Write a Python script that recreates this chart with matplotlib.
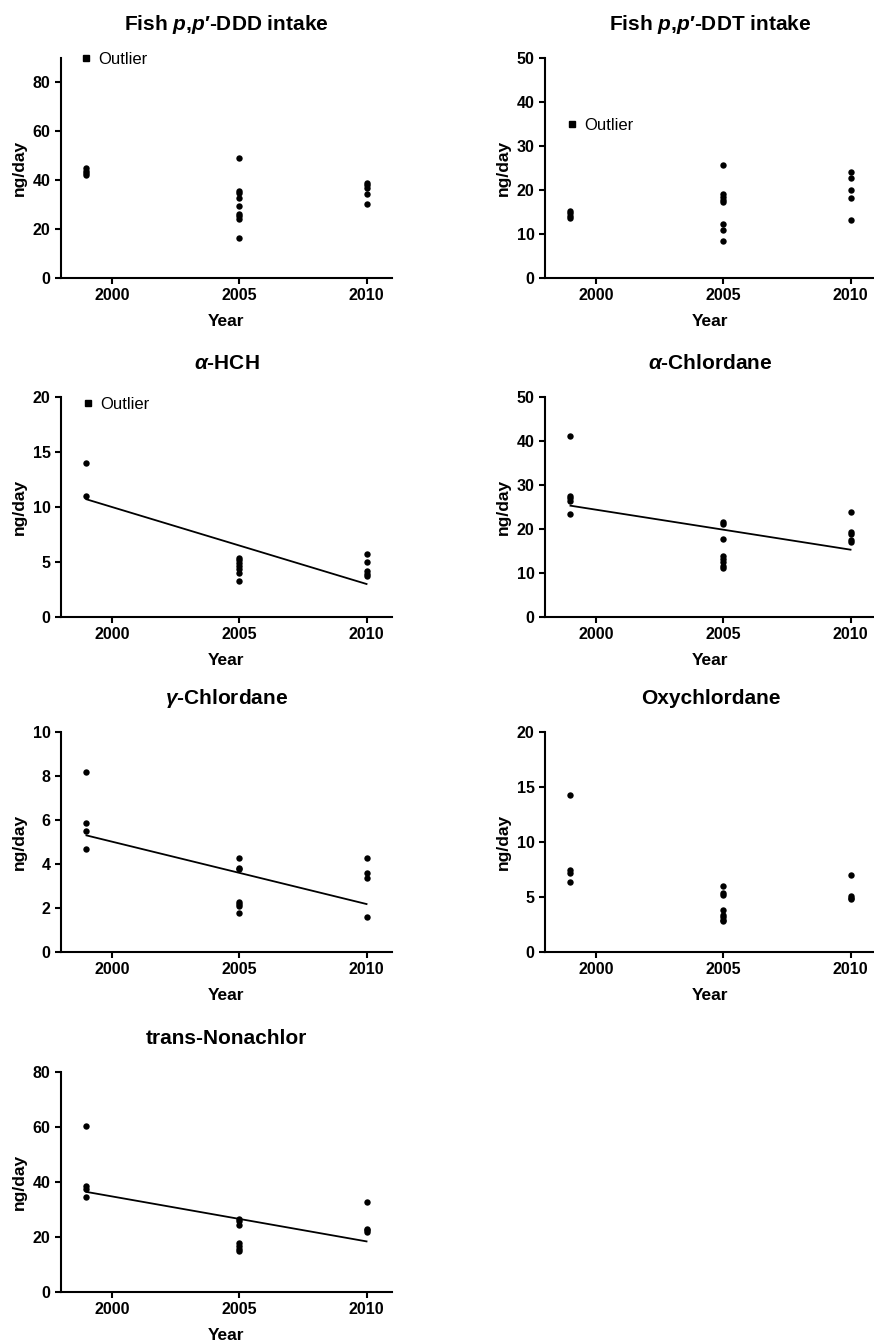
import matplotlib
matplotlib.use("Agg")
import matplotlib.pyplot as plt
from matplotlib.lines import Line2D
import numpy as np

plt.rcParams['font.family'] = ['Liberation Sans', 'DejaVu Sans']
plt.rcParams['mathtext.fontset'] = 'custom'
plt.rcParams['mathtext.rm'] = 'Liberation Sans:bold'
plt.rcParams['mathtext.it'] = 'Liberation Sans:italic:bold'
plt.rcParams['mathtext.bf'] = 'Liberation Sans:bold'

# ---------------- data ----------------
years_ticks = [2000, 2005, 2010]

ddd_1999 = [44.8, 43.8, 42.9, 42.3]
ddd_2005 = [49.0, 35.4, 34.7, 32.7, 29.3, 26.0, 25.2, 24.3, 16.2]
ddd_2010 = [38.8, 37.9, 36.9, 34.5, 30.1]

ddt_1999 = [15.3, 14.8, 14.2, 13.6]
ddt_2005 = [25.7, 19.0, 18.4, 17.8, 17.2, 12.3, 11.0, 8.3]
ddt_2010 = [24.0, 22.8, 20.0, 18.1, 13.2]

hch_1999 = [14.0, 11.0]
hch_2005 = [5.38, 5.14, 4.89, 4.68, 4.38, 3.99, 3.23]
hch_2010 = [5.71, 4.98, 4.2, 3.9, 3.69]
hch_fit = [10.7, 3.0]

ach_1999 = [41.2, 27.6, 27.0, 26.3, 23.4]
ach_2005 = [21.5, 21.1, 17.8, 13.8, 13.2, 12.5, 11.7, 11.2]
ach_2010 = [23.8, 19.3, 18.8, 17.6, 17.1]
ach_fit = [25.3, 15.3]

gch_1999 = [8.18, 5.88, 5.48, 4.67]
gch_2005 = [4.27, 3.82, 3.76, 2.27, 2.18, 2.09, 1.77]
gch_2010 = [4.27, 3.58, 3.36, 1.58]
gch_fit = [5.30, 2.18]

oxy_1999 = [14.27, 7.45, 7.21, 6.33]
oxy_2005 = [5.97, 5.36, 5.15, 3.85, 3.33, 3.15, 2.94, 2.85]
oxy_2010 = [7.03, 5.06, 4.91, 4.82]

tn_1999 = [60.5, 38.4, 37.6, 34.4]
tn_2005 = [26.7, 25.7, 24.5, 17.9, 16.7, 15.5, 14.8]
tn_2010 = [32.7, 23.0, 22.4, 21.7]
tn_fit = [36.4, 18.4]

fit_years = [1999, 2010]

panels = [
    dict(title="Fish $\\mathit{p{,}p}$\u2032-DDD intake", groups=(ddd_1999, ddd_2005, ddd_2010),
         ymax=90, yticks=[0, 20, 40, 60, 80], fit=None, legend=(0.055, 0.995)),
    dict(title="Fish $\\mathit{p{,}p}$\u2032-DDT intake", groups=(ddt_1999, ddt_2005, ddt_2010),
         ymax=50, yticks=[0, 10, 20, 30, 40, 50], fit=None, legend=(0.061, 0.692)),
    dict(title="$\\alpha$-HCH", groups=(hch_1999, hch_2005, hch_2010),
         ymax=20, yticks=[0, 5, 10, 15, 20], fit=hch_fit, legend=(0.061, 0.968)),
    dict(title="$\\alpha$-Chlordane", groups=(ach_1999, ach_2005, ach_2010),
         ymax=50, yticks=[0, 10, 20, 30, 40, 50], fit=ach_fit, legend=None),
    dict(title="$\\gamma$-Chlordane", groups=(gch_1999, gch_2005, gch_2010),
         ymax=10, yticks=[0, 2, 4, 6, 8, 10], fit=gch_fit, legend=None),
    dict(title="Oxychlordane", groups=(oxy_1999, oxy_2005, oxy_2010),
         ymax=20, yticks=[0, 5, 10, 15, 20], fit=None, legend=None),
    dict(title="trans-Nonachlor", groups=(tn_1999, tn_2005, tn_2010),
         ymax=80, yticks=[0, 20, 40, 60, 80], fit=tn_fit, legend=None),
]
group_years = [1999, 2005, 2010]

W, H = 874, 1341
fig = plt.figure(figsize=(W / 100, H / 100), dpi=100)

lefts = [61, 545]
bottoms = [278, 617, 952, 1292]
ax_w, ax_h = 331, 220

for i, p in enumerate(panels):
    r, c = divmod(i, 2)
    l = lefts[c] / W
    b = 1 - bottoms[r] / H
    ax = fig.add_axes([l, b, ax_w / W, ax_h / H])
    for yr, vals in zip(group_years, p['groups']):
        ax.plot([yr] * len(vals), vals, 'o', color='black', ms=4.6, mew=0, zorder=3)
    if p['fit'] is not None:
        ax.plot(fit_years, p['fit'], '-', color='black', lw=1.3)
    ax.set_xlim(1998, 2011)
    ax.set_ylim(0, p['ymax'])
    ax.set_xticks(years_ticks)
    ax.set_yticks(p['yticks'])
    for s in ['top', 'right']:
        ax.spines[s].set_visible(False)
    for s in ['left', 'bottom']:
        ax.spines[s].set_linewidth(1.5)
    ax.tick_params(direction='out', length=4.4, width=1.5, labelsize=11.5, pad=3)
    for lab in ax.get_xticklabels() + ax.get_yticklabels():
        lab.set_fontweight('bold')
    ax.set_xlabel('Year', fontsize=12.5, fontweight='bold', labelpad=8)
    ax.set_ylabel('ng/day', fontsize=12.5, fontweight='bold', labelpad=4)
    ax.set_title(p['title'], fontsize=15, fontweight='bold', pad=20)
    if p['legend'] is not None:
        h = Line2D([], [], marker='s', color='black', linestyle='none', ms=4.2)
        ax.legend([h], ['Outlier'], frameon=False, loc='center left',
                  bbox_to_anchor=p['legend'], handlelength=0.8, handletextpad=0.35,
                  borderpad=0, borderaxespad=0, fontsize=12)

fig.savefig('out.png', dpi=100)
